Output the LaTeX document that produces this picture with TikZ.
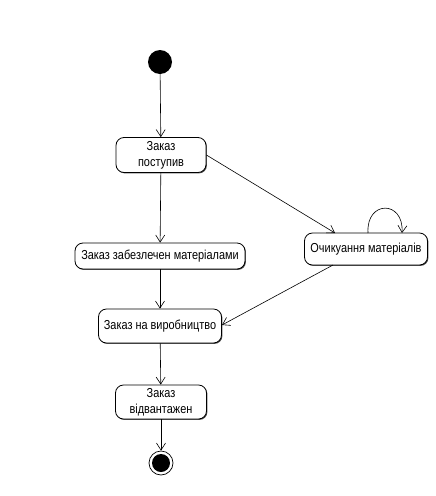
\documentclass[tikz,border=0pt]{standalone}
\usepackage{fontspec}
\newfontfamily\lblfont[FakeStretch=0.84]{Liberation Sans}
\usetikzlibrary{arrows.meta,shadows}
\begin{document}
\begin{tikzpicture}[x=1pt,y=-1pt,
  state/.style={draw, line width=0.8pt, rounded corners=8pt, align=center,
    inner sep=1pt, font=\lblfont\fontsize{13}{16}\selectfont,
    drop shadow={shadow xshift=0.9pt, shadow yshift=-0.9pt, fill=black!70, opacity=1}, fill=white},
  arr/.style={draw, line width=0.6pt, -{Straight Barb[length=7pt,width=9pt,line width=0.6pt]}},
  startnode/.style={circle, fill=black, minimum size=24pt, inner sep=0pt},
  endnode/.style={circle, draw, line width=0.7pt, minimum size=24pt, inner sep=0pt,
    path picture={\fill[black] (path picture bounding box.center) circle (9pt);}}
]
\useasboundingbox (0,0) rectangle (436,496);

\node[startnode] (init) at (160,62) {};
\node[state, minimum width=90pt, minimum height=35pt] (got) at (161,155) {Заказ\\поступив};
\node[state, minimum width=170pt, minimum height=26pt] (supplied) at (160,256) {Заказ забезлечен матеріалами};
\node[state, minimum width=123pt, minimum height=32pt] (wait) at (366,249) {Очикуання матеріалів};
\node[state, minimum width=123pt, minimum height=34pt] (prod) at (160,326) {Заказ на виробництво};
\node[state, minimum width=91pt, minimum height=34pt] (shipped) at (161,402) {Заказ\\відвантажен};
\node[endnode] (final) at (161,463) {};

\coordinate (waitIn) at (335,233);
\coordinate (waitOut) at (333,265);
\coordinate (prodIn) at (222,325);
\coordinate (loopA) at (368,233);
\coordinate (loopB) at (402,233);

\draw[arr] (init) -- (got);
\draw[arr] (got) -- (supplied);
\draw[arr] (got.east) -- (waitIn);
\draw[arr] (supplied) -- (prod);
\draw[arr] (waitOut) -- (prodIn);
\draw[arr] (loopA) .. controls (366,200) and (404,200) .. (loopB);
\draw[arr] (prod) -- (shipped);
\draw[arr] (shipped) -- (final);
\end{tikzpicture}
\end{document}
